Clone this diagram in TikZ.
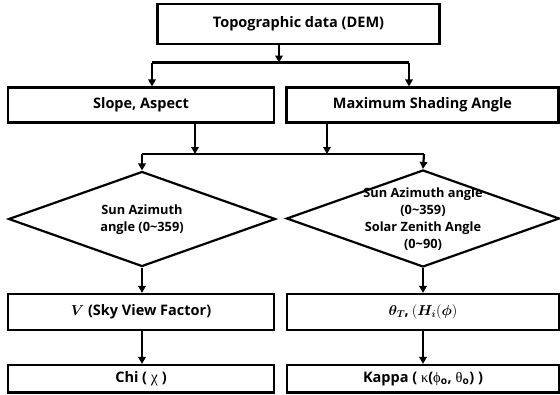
\documentclass[tikz,border=0pt]{standalone}
\usepackage{fontspec}
\setmainfont{Open Sans}
\newfontfamily\grk{Liberation Serif}
\usepackage{bm}
\usetikzlibrary{shapes.geometric,arrows.meta}
\begin{document}
\begin{tikzpicture}[x=1pt,y=-1pt,
  box/.style={draw,line width=2.2pt,inner sep=0pt,font=\fontsize{14.5}{16}\selectfont\bfseries},
  dia/.style={draw,diamond,line width=2.2pt,inner sep=0pt},
  dtext/.style={align=center,font=\fontsize{12.8}{17}\selectfont\bfseries},
  ln/.style={line width=2.2pt},
  arr/.style={line width=2.2pt,-{Triangle[length=7pt,width=7.5pt]}}]
\useasboundingbox (0,0) rectangle (560,394);
\node[box,minimum width=282pt,minimum height=40pt] (top) at (298.5,24) {Topographic data (DEM)};
\node[box,minimum width=266pt,minimum height=35pt] (slope) at (141,105) {Slope, Aspect};
\node[box,minimum width=272pt,minimum height=35pt] (maxs) at (422.5,105) {Maximum Shading Angle};
\node[dia,minimum width=267pt,minimum height=95pt] (ld) at (142,219) {};
\node[dia,minimum width=273pt,minimum height=97pt] (rd) at (423,218.5) {};
\node[dtext] (ldt) at (142,220) {Sun Azimuth\\angle (0\textasciitilde359)};
\node[dtext] (rdt) at (423,219.5) {Sun Azimuth angle\\(0\textasciitilde359)\\Solar Zenith Angle\\(0\textasciitilde90)};
\node[box,minimum width=266pt,minimum height=36pt] (vbox) at (141,312) {$\bm{V}$ (Sky View Factor)};
\node[box,minimum width=272pt,minimum height=36pt] (tbox) at (423,312) {$\bm{\theta}_{\bm{T}}$\kern-0.5pt,\kern3pt$(\bm{H}_{\bm{i}}(\bm{\phi})$};
\node[box,minimum width=266pt,minimum height=27.5pt] (chi) at (141,378.75) {Chi ( {\grk\fontsize{16}{16}\selectfont\mdseries χ} )};
\node[box,minimum width=272pt,minimum height=27.5pt] (kap) at (423,378.75) {Kappa ( {\grk\mdseries κ}({\grk\mdseries ϕ}\textsubscript{o}, {\grk\mdseries θ}\textsubscript{o}) )};
% junctions
\coordinate (j1) at (279,62.5);
\coordinate (j1l) at (152,62.5);
\coordinate (j1r) at (409,62.5);
\coordinate (s1) at (195,0);
\coordinate (s2) at (327,0);
\coordinate (j2) at (0,154);
\coordinate (j2l) at (142,154);
\coordinate (j2r) at (424,154);
\draw[arr] (top.south -| j1) -- (j1);
\draw[ln] (j1l) -- (j1r);
\draw[arr] (j1l) -- (j1l |- slope.north);
\draw[arr] (j1r) -- (j1r |- maxs.north);
\draw[arr] (slope.south -| s1) -- (s1 |- j2);
\draw[arr] (maxs.south -| s2) -- (s2 |- j2);
\draw[ln] (j2l) -- (j2r);
\draw[arr] (j2l) -- (ld.north);
\draw[arr] (j2r) -- (rd.north);
\draw[arr] (ld.south) -- (ld.south |- vbox.north);
\draw[arr] (rd.south) -- (rd.south |- tbox.north);
\draw[arr] (vbox.south -| ld.south) -- (ld.south |- chi.north);
\draw[arr] (tbox.south -| rd.south) -- (rd.south |- kap.north);
\end{tikzpicture}
\end{document}
